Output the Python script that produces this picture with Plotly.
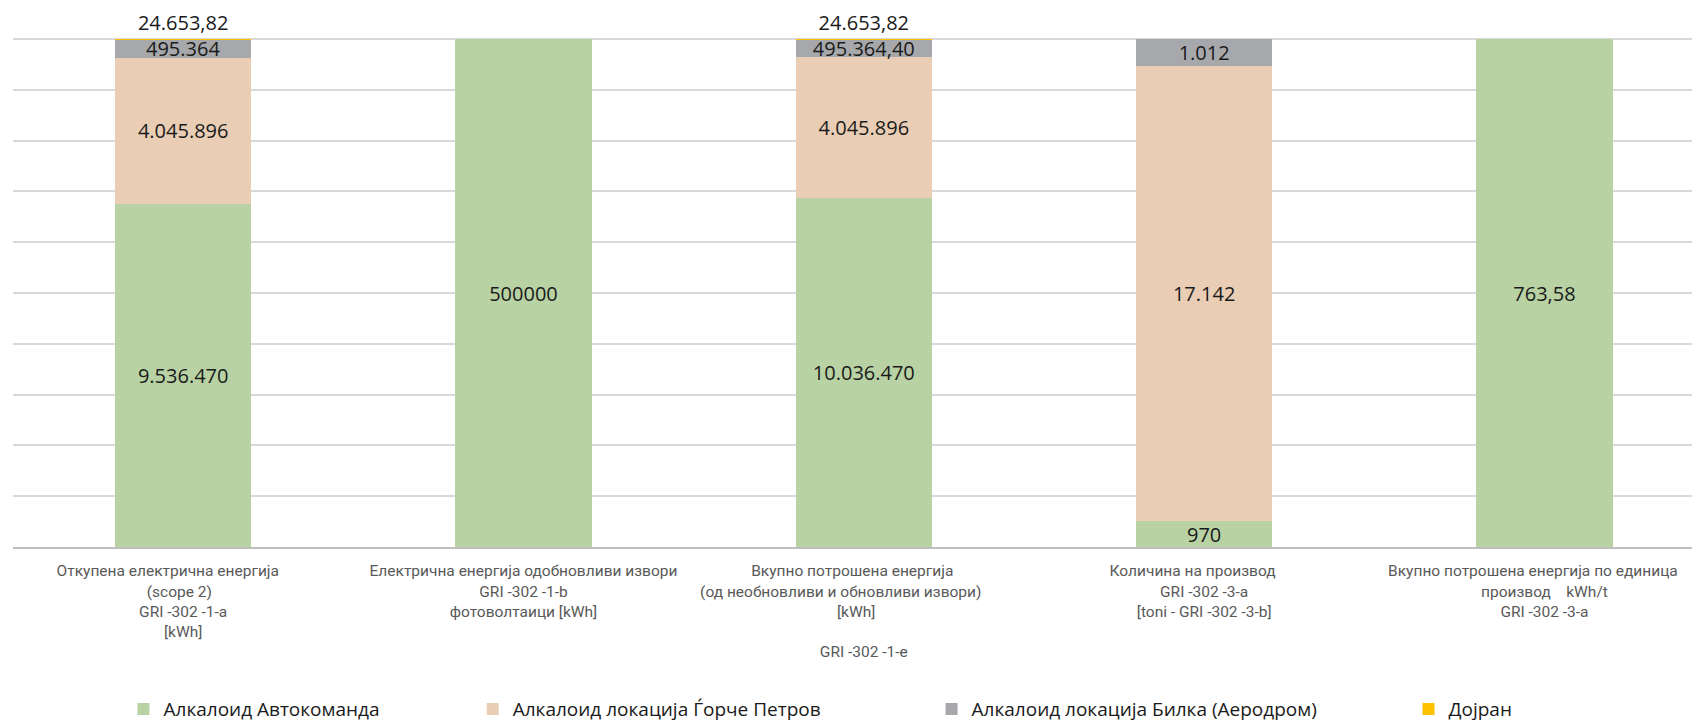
import plotly.graph_objects as go

categories = [
    "Откупена електрична енергија        <br>(scope 2)  <br>GRI -302 -1-a<br>[kWh]",
    "Електрична енергија одобновливи извори<br>GRI -302 -1-b<br>фотоволтаици [kWh]",
    "Вкупно потрошена енергија      <br>(од необновливи и обновливи извори)            <br>[kWh]    <br> <br>GRI -302 -1-e",
    "Количина на производ      <br>GRI -302 -3-a<br>[toni - GRI -302 -3-b]",
    "Вкупно потрошена енергија по единица      <br>производ    kWh/t<br>GRI -302 -3-a",
]

avtokomanda = [9536470, 500000, 10036470, 970, 763.58]
gorce_petrov = [4045896, 0, 4045896, 17142, 0]
bilka = [495364, 0, 495364.40, 1012, 0]
dojran = [24653.82, 0, 24653.82, 0, 0]

avtokomanda_text = ["9.536.470", "500000", "10.036.470", "970", "763,58"]
gorce_text = ["4.045.896", "", "4.045.896", "17.142", ""]
bilka_text = ["495.364", "", "495.364,40", "1.012", ""]
dojran_text = ["24.653,82", "", "24.653,82", "", ""]

series = [
    ("Алкалоид Автокоманда", avtokomanda, avtokomanda_text, "#B8D2A4", "legend", "inside"),
    ("Алкалоид локација Ѓорче Петров", gorce_petrov, gorce_text, "#E9CEB5", "legend2", "inside"),
    ("Алкалоид локација Билка (Аеродром)", bilka, bilka_text, "#A7A8AB", "legend3", "inside"),
    ("Дојран", dojran, dojran_text, "#FFC000", "legend4", "outside"),
]

value_font = dict(family="Open Sans, Noto Sans, sans-serif", size=20, color="#1a1a1a")

fig = go.Figure()
for name, vals, txt, color, leg, pos in series:
    fig.add_trace(go.Bar(
        x=categories, y=vals, name=name, text=txt,
        textposition=pos, insidetextanchor="middle",
        constraintext="none", cliponaxis=(pos != "outside"),
        textfont=value_font, marker=dict(color=color, line=dict(width=0)),
        width=0.4, legend=leg, showlegend=True,
    ))

# the page body has an 8px margin, so margins here are shifted by 8px
legend_style = dict(
    orientation="h", yanchor="middle", y=-0.318, xanchor="left",
    font=dict(family="Open Sans, Noto Sans, sans-serif", size=19, color="#1a1a1a"),
    itemwidth=30, bgcolor="rgba(0,0,0,0)",
)

fig.update_layout(
    barmode="stack",
    barnorm="percent",
    width=1700, height=722,
    showlegend=True,
    margin=dict(l=5, r=8, t=29, b=183, autoexpand=False),
    plot_bgcolor="white", paper_bgcolor="white",
    xaxis=dict(
        range=[-0.5, 4.457], automargin=False,
        showline=True, linecolor="#bfbfbf", linewidth=1.5,
        ticks="", ticklabelstandoff=9,
        tickfont=dict(family="Roboto, sans-serif", size=15.5, color="#595959"),
    ),
    yaxis=dict(
        range=[0, 100.4], dtick=10, showticklabels=False, automargin=False,
        gridcolor="#d9d9d9", gridwidth=1.5, zeroline=False,
    ),
    legend=dict(legend_style, x=0.0655),
    legend2=dict(legend_style, x=0.2725),
    legend3=dict(legend_style, x=0.5445),
    legend4=dict(legend_style, x=0.8272),
)

fig.write_html("out.html")
